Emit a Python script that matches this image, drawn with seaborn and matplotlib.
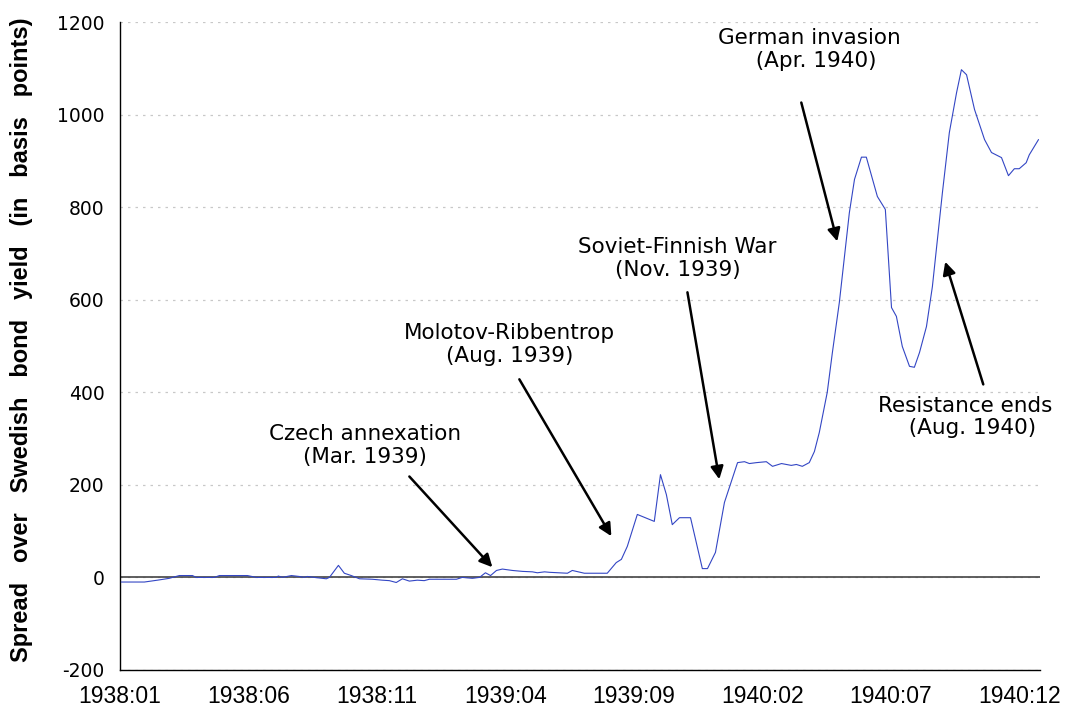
import matplotlib
matplotlib.use("Agg")
import matplotlib.pyplot as plt
import seaborn as sns
import pandas as pd

# months since 1938:01 and spread over Swedish yield (basis points)
month_pos = [0.05, 0.95, 1.46, 1.92, 2.31, 2.82, 2.97, 3.67, 3.87, 4.96,
             5.31, 6.09, 6.16, 6.32, 6.67, 6.98, 7.17, 7.29, 7.56, 8.03,
             8.15, 8.50, 8.73, 9.00, 9.32, 9.82, 10.21, 10.48, 10.75, 10.99,
             11.26, 11.57, 11.84, 12.04, 13.09, 13.32, 13.71, 13.99, 14.22, 14.42,
             14.65, 14.88, 15.27, 15.66, 16.05, 16.24, 16.52, 16.71, 17.41, 17.60,
             18.07, 18.96, 19.31, 19.51, 19.74, 20.13, 20.79, 21.03, 21.26, 21.49,
             21.77, 22.20, 22.66, 22.86, 23.17, 23.52, 24.03, 24.30, 24.49, 24.77,
             25.15, 25.39, 25.74, 26.12, 26.32, 26.55, 26.82, 27.02, 27.21, 27.52,
             27.72, 27.99, 28.38, 28.58, 28.85, 29.04, 29.47, 29.78, 30.02, 30.21,
             30.44, 30.72, 30.91, 31.11, 31.38, 31.61, 32.00, 32.27, 32.55, 32.74,
             32.94, 33.25, 33.64, 33.91, 34.30, 34.57, 34.80, 34.99, 35.26, 35.38,
             35.74]
spread_bp = [-10, -10, -6, -2, 4, 4, 0, 0, 4, 4,
             0, 0, 3, 0, 4, 2, 0, 2, 0, -3,
             0, 26, 9, 4, -3, -4, -6, -7, -11, -3,
             -8, -6, -7, -4, -4, 0, -2, 0, 10, 4,
             15, 18, 15, 13, 12, 10, 12, 11, 9, 15,
             9, 9, 32, 39, 67, 136, 121, 222, 179, 114,
             129, 129, 19, 19, 54, 162, 248, 250, 246, 248,
             250, 240, 246, 242, 244, 240, 248, 272, 313, 400,
             486, 594, 788, 860, 908, 908, 823, 795, 583, 564,
             499, 456, 454, 486, 542, 628, 831, 961, 1047, 1097,
             1086, 1011, 946, 918, 907, 868, 883, 883, 896, 913,
             946]

tick_pos = [0, 5, 10, 15, 20, 25, 30, 35]
tick_labels = ["1938:01", "1938:06", "1938:11", "1939:04",
               "1939:09", "1940:02", "1940:07", "1940:12"]

# event labels: text, text centre, arrow start, arrow tip
events = ["Czech annexation\n(Mar. 1939)", "Molotov-Ribbentrop\n(Aug. 1939)",
          "Soviet-Finnish War\n(Nov. 1939)", "German invasion\n  (Apr. 1940)",
          "Resistance ends\n  (Aug. 1940)"]
text_xy = [(9.55, 285), (15.17, 503), (21.69, 689), (26.82, 1141), (32.9, 346)]
arrow_from = [(11.26, 218), (15.54, 428), (22.08, 616), (26.51, 1026), (33.59, 417)]
arrow_to = [(14.49, 22), (19.12, 89), (23.32, 212), (27.91, 726), (32.11, 682)]

df = pd.DataFrame({"month": month_pos, "spread": spread_bp})

sns.set_style("white")
plt.rcParams["font.family"] = ["DejaVu Sans"]
plt.rcParams["axes.unicode_minus"] = False
plt.rcParams["text.color"] = "black"
plt.rcParams["xtick.color"] = "black"
plt.rcParams["ytick.color"] = "black"
plt.rcParams["axes.labelcolor"] = "black"

fig = plt.figure(figsize=(10.73, 7.17), dpi=100)
ax = fig.add_axes([0.1118, 0.0656, 0.8575, 0.9037])

ax.yaxis.grid(True, color="#c8c8c8", linestyle=(0, (2, 4)), linewidth=0.9)
ax.set_axisbelow(True)
ax.axhline(0, color="#444444", lw=1.2, zorder=2)

sns.lineplot(data=df, x="month", y="spread", ax=ax, color="#3346c4",
             linewidth=0.8, zorder=3)

for txt, tpos, a0, a1 in zip(events, text_xy, arrow_from, arrow_to):
    ax.text(tpos[0], tpos[1], txt, ha="center", va="center",
            fontsize=15.5, linespacing=1.15)
    ax.annotate("", xy=a1, xytext=a0,
                arrowprops=dict(arrowstyle="-|>", color="black", lw=1.8,
                                mutation_scale=19, shrinkA=0, shrinkB=0))

ax.set_xlim(0, 35.8)
ax.set_ylim(-200, 1200)
ax.set_yticks(range(-200, 1201, 200))
ax.set_xticks(tick_pos)
ax.set_xticklabels(tick_labels, family=["Liberation Sans", "DejaVu Sans"],
                   fontsize=16.5)
ax.tick_params(axis="y", labelsize=13.5, direction="out", length=5, width=1,
               pad=6)
ax.tick_params(axis="x", direction="out", length=6, width=1, pad=5)
ax.set_xlabel("")
ax.set_ylabel("Spread   over   Swedish   bond   yield   (in   basis   points)",
              family=["Liberation Sans", "DejaVu Sans"],
              fontweight="bold", fontsize=17)
ax.yaxis.set_label_coords(-0.095, 0.51)

for side in ["top", "right"]:
    ax.spines[side].set_visible(False)
for side in ["left", "bottom"]:
    ax.spines[side].set_color("black")
    ax.spines[side].set_linewidth(1)

plt.savefig("out.png", dpi=100)
plt.close()
